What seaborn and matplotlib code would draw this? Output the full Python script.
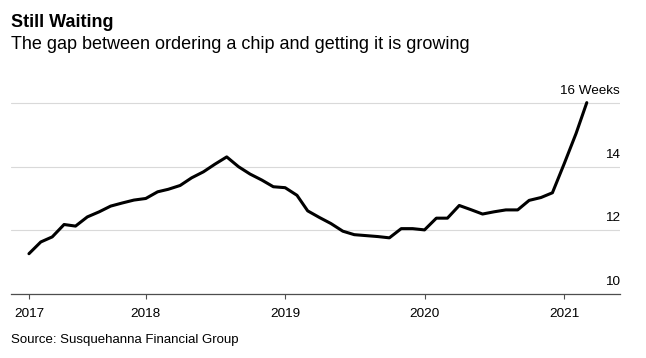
import matplotlib
matplotlib.use("Agg")
import matplotlib.pyplot as plt
import pandas as pd
import seaborn as sns

# Chip lead times (weeks), monthly, Mar 2017 - Mar 2021
months = pd.date_range("2017-03-01", periods=49, freq="MS")
lead_weeks = [
    11.26, 11.63, 11.79, 12.18, 12.13, 12.42, 12.58, 12.76, 12.86, 12.95,
    13.00, 13.21, 13.29, 13.41, 13.65, 13.84, 14.08, 14.31, 14.00, 13.77,
    13.58, 13.37, 13.34, 13.10, 12.61, 12.40, 12.21, 11.97, 11.86, 11.83,
    11.80, 11.76, 12.05, 12.05, 12.01, 12.38, 12.38, 12.78, 12.65, 12.51,
    12.58, 12.64, 12.64, 12.94, 13.03, 13.18, 14.10, 15.05, 16.02,
]

year_ticks = [pd.Timestamp("2017-03-01"), pd.Timestamp("2018-01-01"),
              pd.Timestamp("2019-01-01"), pd.Timestamp("2020-01-01"),
              pd.Timestamp("2021-01-01")]
year_labels = ["2017", "2018", "2019", "2020", "2021"]
y_ticks = [10, 12, 14, 16]
y_labels = ["10", "12", "14", "16 Weeks"]

df = pd.DataFrame({"month": months, "weeks": lead_weeks})

sns.set_style("white")
plt.rcParams["font.family"] = ["Liberation Sans", "DejaVu Sans"]

fig = plt.figure(figsize=(6.46, 3.58), dpi=100)
ax = fig.add_axes([11 / 646, 0.1796, 609 / 646, 0.5763])

sns.lineplot(data=df, x="month", y="weeks", color="black", linewidth=2.2, ax=ax)

ax.set_xlim(pd.Timestamp("2017-01-13"), pd.Timestamp("2021-05-27"))
ax.set_ylim(10, 16.5)
ax.set_xlabel("")
ax.set_ylabel("")

ax.set_xticks(year_ticks)
ax.set_xticklabels(year_labels)
ax.set_yticks(y_ticks)
ax.yaxis.grid(True, color="#d9d9d9", linewidth=0.8)
ax.xaxis.grid(False)
ax.tick_params(axis="x", bottom=True, length=3.6, width=0.8, color="#4d4d4d",
               pad=7, labelsize=9.7, labelcolor="black")
ax.tick_params(axis="y", left=False, right=False, labelleft=False, labelright=False)

for side in ["top", "left", "right"]:
    ax.spines[side].set_visible(False)
ax.spines["bottom"].set_color("#4d4d4d")
ax.spines["bottom"].set_linewidth(0.9)

# value labels sit just above their gridlines on the right
for v, lab in zip(y_ticks, y_labels):
    ax.annotate(lab, xy=(1, v), xycoords=("axes fraction", "data"),
                xytext=(0, 6.5), textcoords="offset points",
                ha="right", va="baseline", fontsize=9.7, color="black")

fig.text(11 / 646, 1 - 26.7 / 358, "Still Waiting", fontsize=13,
         fontweight="bold", va="baseline", ha="left", color="black")
fig.text(11 / 646, 1 - 49 / 358,
         "The gap between ordering a chip and getting it is growing",
         fontsize=13, va="baseline", ha="left", color="black")
fig.text(11 / 646, 1 - 343 / 358, "Source: Susquehanna Financial Group",
         fontsize=9.5, va="baseline", ha="left", color="black")

fig.savefig("out.png", dpi=100)
